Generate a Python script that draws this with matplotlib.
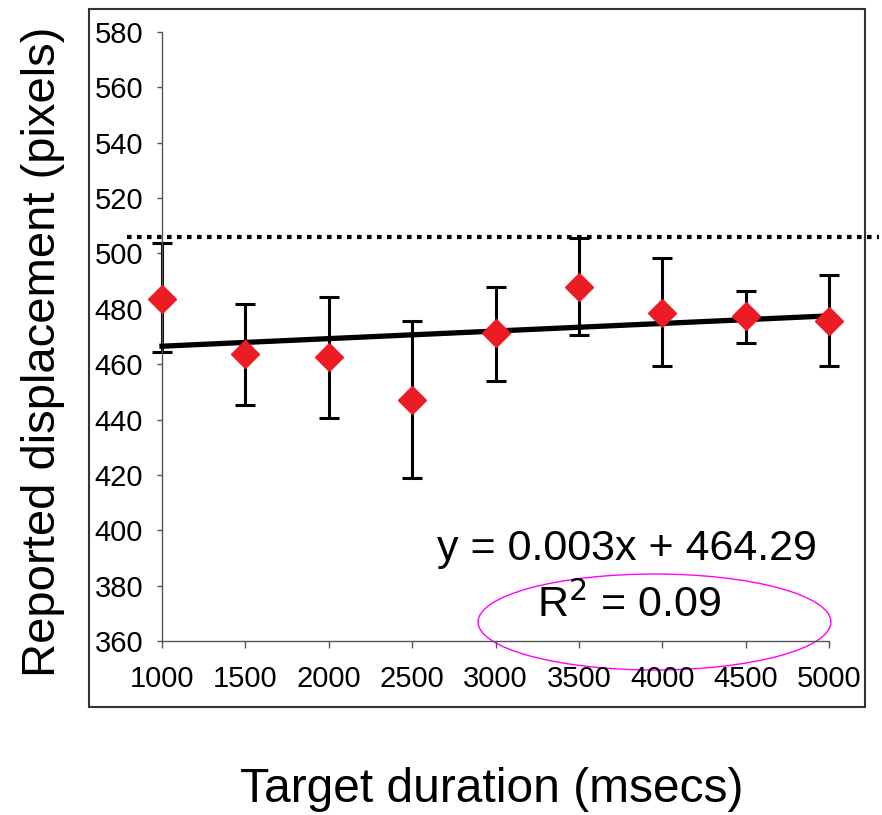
import numpy as np
import matplotlib
matplotlib.use('Agg')
import matplotlib.pyplot as plt
from matplotlib.patches import Ellipse, Rectangle

plt.rcParams['font.family'] = ['Liberation Sans', 'DejaVu Sans']

durations = np.array([1000, 1500, 2000, 2500, 3000, 3500, 4000, 4500, 5000])
displacement = np.array([483.6, 463.6, 462.7, 447.0, 471.4, 488.0, 478.4, 477.4, 475.7])
err_low = np.array([19.3, 18.4, 22.0, 28.0, 17.6, 17.5, 19.1, 9.6, 16.4])
err_high = np.array([20.1, 18.1, 21.7, 28.7, 16.4, 17.6, 20.1, 8.9, 16.6])
reference_level = 505.8
equation_text = 'y = 0.003x + 464.29'
r2_text = 'R$^2$ = 0.09'

fig = plt.figure(figsize=(8.82, 8.15), dpi=100)
ax = fig.add_axes([0.1837, 0.2135, 0.7562, 0.7472])

# outer frame
fig.patches.append(Rectangle((0.1009, 0.1325), 0.8798, 0.8565, transform=fig.transFigure,
                             fill=False, edgecolor='#333333', linewidth=1.5))

ax.errorbar(durations, displacement, yerr=[err_low, err_high], fmt='none',
            ecolor='black', elinewidth=2.2, capsize=7, capthick=2.2, zorder=2,
            clip_on=False)

slope, intercept = np.polyfit(durations, displacement, 1)
xfit = np.array([durations.min(), durations.max()])
ax.plot(xfit, slope * xfit + intercept, color='black', linewidth=3.8, zorder=3,
        clip_on=False)

ax.plot(durations, displacement, linestyle='none', marker='D', markersize=14.5,
        markerfacecolor='#ED1C24', markeredgecolor='#ED1C24', zorder=4, clip_on=False)

ax.axhline(reference_level, xmin=-0.052, xmax=1.075, color='black', linewidth=3,
           dashes=(1.1, 1.3), clip_on=False, zorder=1)

ax.text(0.697, 0.133, equation_text, transform=ax.transAxes, ha='center',
        va='baseline', fontsize=31)
ax.text(0.700, 0.0394, r2_text, transform=ax.transAxes, ha='center',
        va='baseline', fontsize=31)
ax.add_patch(Ellipse((0.7384, 0.0312), 0.529, 0.1576, transform=ax.transAxes,
                     fill=False, edgecolor='#FF00FF', linewidth=1, clip_on=False))

ax.set_xlim(1000, 5000)
ax.set_ylim(360, 580)
ax.set_xticks(durations)
ax.set_yticks(np.arange(360, 581, 20))
for s in ['top', 'right']:
    ax.spines[s].set_visible(False)
for s in ['left', 'bottom']:
    ax.spines[s].set_color('#555555')
    ax.spines[s].set_linewidth(1)
ax.tick_params(axis='y', direction='out', length=3.6, width=1, color='#555555',
               labelsize=21, pad=10)
ax.tick_params(axis='x', direction='out', length=5, width=1, color='#555555',
               labelsize=21, pad=12)

fig.text(0.049, 0.568, 'Reported displacement (pixels)', rotation=90, ha='center',
         va='center', fontsize=34)
fig.text(0.558, 0.031, 'Target duration (msecs)', ha='center', va='center', fontsize=34.5)

fig.savefig('out.png', dpi=100)
